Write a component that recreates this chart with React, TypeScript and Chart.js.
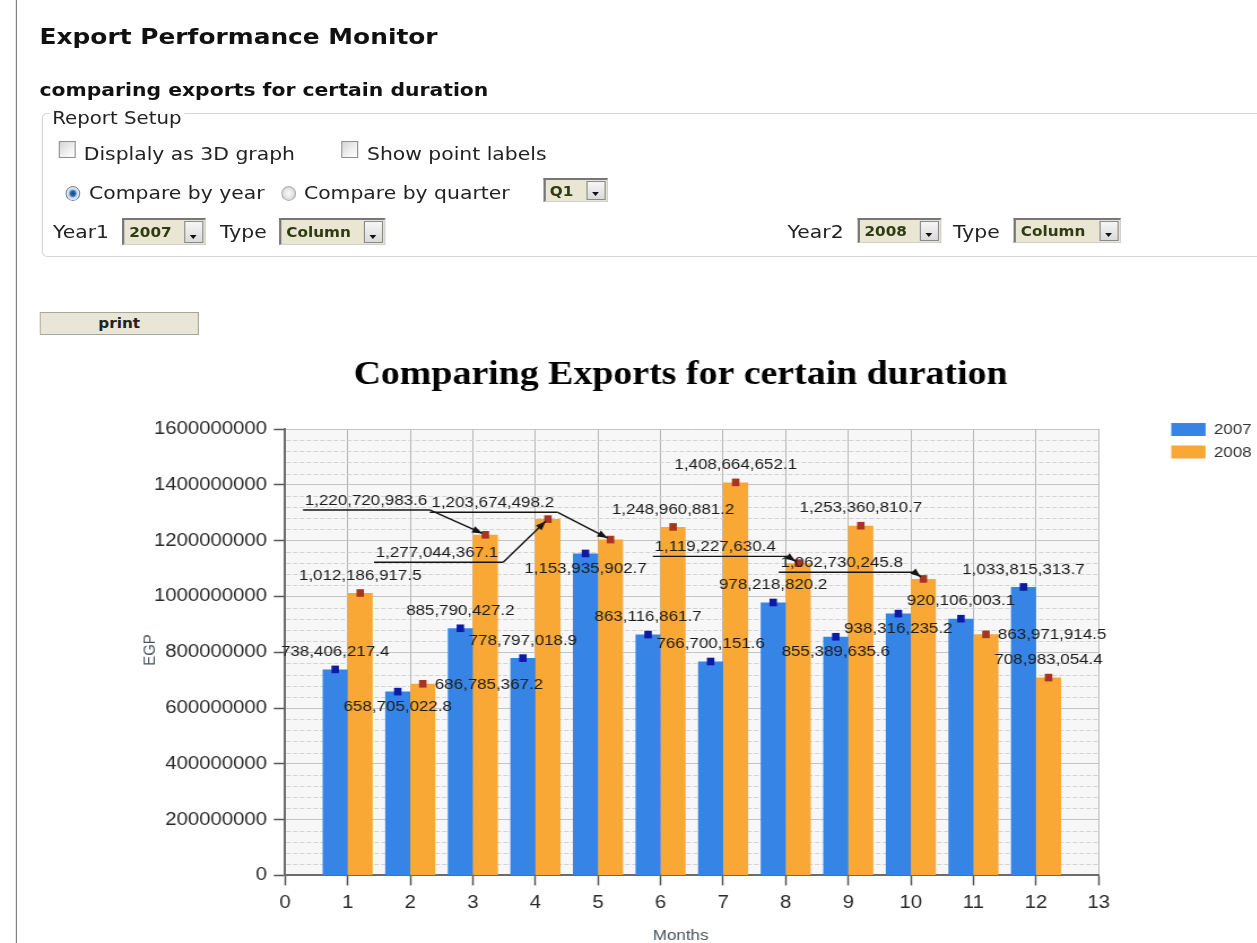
import React, { useEffect, useRef } from 'react';
import { Chart, registerables } from 'chart.js';

Chart.register(...registerables);

// ---------------- data ----------------
const MONTHS = [1, 2, 3, 4, 5, 6, 7, 8, 9, 10, 11, 12];
const EXPORTS_2007 = [
  738406217.4, 658705022.8, 885790427.2, 778797018.9, 1153935902.7, 863116861.7,
  766700151.6, 978218820.2, 855389635.6, 938316235.2, 920106003.1, 1033815313.7,
];
const EXPORTS_2008 = [
  1012186917.5, 686785367.2, 1220720983.6, 1277044367.1, 1203674498.2, 1248960881.2,
  1408664652.1, 1119227630.4, 1253360810.7, 1062730245.8, 863971914.5, 708983054.4,
];
const SERIES_LABELS = ['2007', '2008'];
const Y_TICKS = [0, 200000000, 400000000, 600000000, 800000000, 1000000000, 1200000000, 1400000000, 1600000000];
const X_TICKS = [0, 1, 2, 3, 4, 5, 6, 7, 8, 9, 10, 11, 12, 13];
const CHART_TITLE = 'Comparing Exports for certain duration';
const X_TITLE = 'Months';
const Y_TITLE = 'EGP';

// label placement (annotation layout, not data)
const LABEL_POS_2007 = ['top', 'bottom', 'top', 'top', 'bottom', 'top', 'top', 'top', 'bottom', 'bottom', 'top', 'top'];
const LABEL_POS_2008 = ['top', 'right', 'callout', 'callout', 'callout', 'top', 'top', 'callout', 'top', 'callout', 'right', 'top'];
const CALLOUT_2008: (number[] | null)[] = [
  null, null, [-105.6, -33.8, 2.7], [-98.2, 34.2, 4.4], [-104.2, -36.3, 3.3], null,
  null, [-73.5, -15.8, 10.6], null, [-72.3, -15.6, 10.3], null, null,
];

// ---------------- styles ----------------
const S = 1.13; // horizontal stretch of the reference picture
const UI_FONT = '"DejaVu Sans", Verdana, sans-serif';
const CH_FONT = '"Liberation Sans", Arial, sans-serif';
const BAR_COLORS = ['#3584e6', '#f9a835'];
const MARKER_COLORS = ['#0c1aa6', '#a83423'];

const fmt = (v: number) =>
  v.toLocaleString('en-US', { minimumFractionDigits: 1, maximumFractionDigits: 1 });

function drawArrow(ctx: CanvasRenderingContext2D, x1: number, y1: number, x2: number, y2: number) {
  const ang = Math.atan2(y2 - y1, x2 - x1);
  const tx = x2 - Math.cos(ang) * 3;
  const ty = y2 - Math.sin(ang) * 3;
  ctx.beginPath();
  ctx.moveTo(x1, y1);
  ctx.lineTo(tx, ty);
  ctx.stroke();
  const L = 9;
  const W = 3.5;
  ctx.beginPath();
  ctx.moveTo(tx, ty);
  ctx.lineTo(tx - L * Math.cos(ang) + W * Math.sin(ang), ty - L * Math.sin(ang) - W * Math.cos(ang));
  ctx.lineTo(tx - L * Math.cos(ang) - W * Math.sin(ang), ty - L * Math.sin(ang) + W * Math.cos(ang));
  ctx.closePath();
  ctx.fill();
}

const decorPlugin = {
  id: 'decor',
  beforeDraw(chart: any) {
    const { ctx, chartArea } = chart;
    ctx.save();
    ctx.fillStyle = '#f7f7f7';
    ctx.fillRect(chartArea.left, chartArea.top, chartArea.right - chartArea.left, chartArea.bottom - chartArea.top);
    ctx.restore();
  },
  beforeDatasetsDraw(chart: any) {
    const { ctx, chartArea } = chart;
    const ys = chart.scales.y;
    ctx.save();
    ctx.strokeStyle = '#d2d2d2';
    ctx.lineWidth = 1;
    ctx.setLineDash([4, 2]);
    const max = Y_TICKS[Y_TICKS.length - 1];
    const minorStep = (Y_TICKS[1] - Y_TICKS[0]) / 5;
    for (let v = minorStep; v < max; v += minorStep) {
      if (Math.abs(v / Y_TICKS[1] - Math.round(v / Y_TICKS[1])) < 1e-6) continue;
      const y = Math.round(ys.getPixelForValue(v)) + 0.5;
      ctx.beginPath();
      ctx.moveTo(chartArea.left + 1, y);
      ctx.lineTo(chartArea.right, y);
      ctx.stroke();
    }
    ctx.restore();
  },
  afterDatasetsDraw(chart: any) {
    const { ctx } = chart;
    ctx.save();
    // markers
    chart.data.datasets.forEach((ds: any, di: number) => {
      const meta = chart.getDatasetMeta(di);
      meta.data.forEach((bar: any) => {
        const { x, y } = bar.getProps(['x', 'y'], true);
        ctx.fillStyle = MARKER_COLORS[di];
        ctx.fillRect(x - 3.3, y - 3.8, 6.6, 7.6);
      });
    });
    // labels
    ctx.font = `15px ${CH_FONT}`;
    ctx.fillStyle = '#1c1c1c';
    ctx.strokeStyle = '#151515';
    ctx.lineWidth = 1.4;
    ctx.textBaseline = 'middle';
    const positions = [LABEL_POS_2007, LABEL_POS_2008];
    const callouts = [[], CALLOUT_2008] as (number[] | null)[][];
    chart.data.datasets.forEach((ds: any, di: number) => {
      const meta = chart.getDatasetMeta(di);
      meta.data.forEach((bar: any, i: number) => {
        const { x, y } = bar.getProps(['x', 'y'], true);
        const text = fmt(ds.data[i].y);
        const w = ctx.measureText(text).width;
        const pos = positions[di][i];
        if (pos === 'top') {
          ctx.textAlign = 'center';
          ctx.fillText(text, x, y - 17.5);
        } else if (pos === 'bottom') {
          ctx.textAlign = 'center';
          ctx.fillText(text, x, y + 15.5);
        } else if (pos === 'right') {
          ctx.textAlign = 'left';
          ctx.fillText(text, x + 10.6, y + 1);
        } else {
          const c = callouts[di][i] as number[];
          const cx = x + c[0];
          const cy = y + c[1];
          ctx.textAlign = 'center';
          ctx.fillText(text, cx, cy);
          const ul = cy + 9;
          const l = cx - w / 2 - 1.5;
          const r = cx + w / 2 + c[2];
          ctx.beginPath();
          ctx.moveTo(l, ul);
          ctx.lineTo(r, ul);
          ctx.stroke();
          ctx.fillStyle = '#151515';
          drawArrow(ctx, r, ul, x, y);
          ctx.fillStyle = '#1c1c1c';
        }
      });
    });
    ctx.restore();
  },
  afterDraw(chart: any) {
    const { ctx } = chart;
    ctx.save();
    // chart title
    ctx.fillStyle = '#000';
    ctx.font = `bold 33.5px "Liberation Serif", "Times New Roman", serif`;
    ctx.textAlign = 'center';
    ctx.textBaseline = 'middle';
    ctx.fillText(CHART_TITLE, 513.3, 35);
    // legend
    chart.data.datasets.forEach((ds: any, i: number) => {
      const top = 83 + i * 22.5;
      ctx.fillStyle = ds.backgroundColor;
      ctx.fillRect(947.5, top, 30.4, 13);
      ctx.fillStyle = '#333';
      ctx.font = `15px ${CH_FONT}`;
      ctx.textAlign = 'left';
      ctx.textBaseline = 'middle';
      ctx.fillText(ds.label, 985.2, top + 7);
    });
    // axis titles
    ctx.fillStyle = '#4a5360';
    ctx.font = `15px ${CH_FONT}`;
    ctx.textAlign = 'center';
    ctx.textBaseline = 'middle';
    ctx.fillText(X_TITLE, 513.3, 596);
    ctx.translate(44, 310);
    ctx.rotate(-Math.PI / 2);
    ctx.fillText(Y_TITLE, 0, 0);
    ctx.restore();
  },
};

function ExportChart() {
  const ref = useRef<HTMLCanvasElement | null>(null);
  useEffect(() => {
    if (!ref.current) return;
    const chart = new Chart(ref.current, {
      type: 'bar',
      data: {
        datasets: [EXPORTS_2007, EXPORTS_2008].map((vals, di) => ({
          label: SERIES_LABELS[di],
          data: MONTHS.map((m, i) => ({ x: m, y: vals[i] })),
          backgroundColor: BAR_COLORS[di],
          borderWidth: 0,
          categoryPercentage: 0.8,
          barPercentage: 1,
        })),
      },
      options: {
        responsive: true,
        maintainAspectRatio: false,
        animation: false,
        events: [],
        layout: { padding: { left: 0, right: 140.8, top: 89, bottom: 0 } },
        plugins: {
          legend: { display: false },
          tooltip: { enabled: false },
          title: { display: false },
        },
        scales: {
          x: {
            type: 'linear',
            min: X_TICKS[0],
            max: X_TICKS[X_TICKS.length - 1],
            offset: false,
            afterBuildTicks: (s: any) => {
              s.ticks = X_TICKS.map((v) => ({ value: v }));
            },
            afterFit: (s: any) => {
              s.height = 67.6;
            },
            ticks: {
              color: '#2a2a2a',
              font: { family: CH_FONT, size: 18 },
              padding: 7,
              callback: (v: any) => String(v),
            },
            grid: { offset: false, color: '#b7b7b7', lineWidth: 1, tickLength: 10, tickColor: '#555', tickWidth: 1.5 },
            border: { color: '#6b6b6b', width: 2 },
          },
          y: {
            type: 'linear',
            min: Y_TICKS[0],
            max: Y_TICKS[Y_TICKS.length - 1],
            afterBuildTicks: (s: any) => {
              s.ticks = Y_TICKS.map((v) => ({ value: v }));
            },
            afterFit: (s: any) => {
              s.width = 163.3;
            },
            ticks: {
              color: '#2a2a2a',
              font: { family: CH_FONT, size: 18 },
              padding: 6,
              callback: (v: any) => String(v),
            },
            grid: { color: '#c4c4c4', lineWidth: 1, tickLength: 10, tickColor: '#555', tickWidth: 1.5 },
            border: { color: '#6b6b6b', width: 2 },
          },
        },
      } as any,
      plugins: [decorPlugin],
    });
    return () => chart.destroy();
  }, []);
  return <canvas ref={ref} style={{ display: 'block', width: '100%', height: '100%' }} />;
}

// ---------------- page UI ----------------
function Txt(props: { x: number; base: number; size: number; bold?: boolean; children: any; bg?: string; color?: string }) {
  const { x, base, size, bold, children, bg, color } = props;
  return (
    <div
      style={{
        position: 'absolute',
        left: x,
        top: base - 0.846 * size,
        fontFamily: UI_FONT,
        fontSize: size,
        lineHeight: 1,
        fontWeight: bold ? 'bold' : 'normal',
        whiteSpace: 'nowrap',
        color: color || '#222',
        background: bg,
        padding: bg ? '0 2px' : undefined,
        marginLeft: bg ? -2 : undefined,
      }}
    >
      {children}
    </div>
  );
}

function CheckBox({ x, y }: { x: number; y: number }) {
  return (
    <div
      style={{
        position: 'absolute',
        left: x,
        top: y,
        width: 15,
        height: 17,
        boxSizing: 'border-box',
        border: '1px solid #8e8e8e',
        background: 'linear-gradient(135deg, #d4d4d4 0%, #efefef 55%, #ffffff 100%)',
      }}
    />
  );
}

function Radio({ x, y, checked }: { x: number; y: number; checked?: boolean }) {
  return (
    <div
      style={{
        position: 'absolute',
        left: x,
        top: y,
        width: 13.3,
        height: 15,
        boxSizing: 'border-box',
        borderRadius: '50%',
        border: checked ? '1px solid #6f8aa6' : '1px solid #b0b0b0',
        background: checked
          ? 'radial-gradient(closest-side, #123f80 0%, #2f74c0 45%, #b9cbdc 62%, #f2f2f2 100%)'
          : 'radial-gradient(closest-side, #f8f8f8 0%, #e6e6e6 70%, #d2d2d2 100%)',
      }}
    />
  );
}

function Select({ x, y, w, h, text }: { x: number; y: number; w: number; h: number; text: string }) {
  return (
    <div
      style={{
        position: 'absolute',
        left: x,
        top: y,
        width: w,
        height: h,
        boxSizing: 'border-box',
        borderStyle: 'solid',
        borderWidth: '2px 1px 1px 2px',
        borderColor: '#777 #cfcfcf #cfcfcf #777',
        background: '#e9e7d3',
      }}
    >
      <div
        style={{
          position: 'absolute',
          left: 4,
          top: 0,
          bottom: 0,
          display: 'flex',
          alignItems: 'center',
          fontFamily: UI_FONT,
          fontWeight: 'bold',
          fontSize: 13.5,
          color: '#2f3b10',
        }}
      >
        {text}
      </div>
      <div
        style={{
          position: 'absolute',
          right: 1,
          top: 1,
          bottom: 1,
          width: 17,
          boxSizing: 'border-box',
          border: '1px solid #8a8a8a',
          background: 'linear-gradient(#f6f6f6, #dadada)',
        }}
      >
        <div
          style={{
            position: 'absolute',
            left: '50%',
            bottom: 3,
            marginLeft: -3.5,
            width: 0,
            height: 0,
            borderLeft: '3.5px solid transparent',
            borderRight: '3.5px solid transparent',
            borderTop: '4px solid #111',
          }}
        />
      </div>
    </div>
  );
}

export default function App() {
  return (
    <div style={{ position: 'absolute', left: 0, top: 0, width: 1257, height: 943, overflow: 'hidden', background: '#fff' }}>
      <div
        style={{
          position: 'absolute',
          left: 0,
          top: 0,
          width: 1257 / S,
          height: 943,
          transform: `scaleX(${S})`,
          transformOrigin: '0 0',
        }}
      >
        <div style={{ position: 'absolute', left: 13.7, top: 0, width: 1.3, height: 943, background: '#7a7a7a' }} />
        <Txt x={35} base={45} size={22} bold color="#111">Export Performance Monitor</Txt>
        <Txt x={35} base={96} size={18} bold color="#111">comparing exports for certain duration</Txt>

        <div
          style={{
            position: 'absolute',
            left: 37.2,
            top: 113,
            width: 1090,
            height: 143.7,
            boxSizing: 'border-box',
            border: '1.5px solid #d6d6d6',
            borderRadius: 5,
          }}
        />
        <Txt x={46.2} base={125} size={17.5} bg="#fff">Report Setup</Txt>

        <CheckBox x={52.2} y={141} />
        <Txt x={74.1} base={160} size={18}>Displaly as 3D graph</Txt>
        <CheckBox x={301.8} y={141} />
        <Txt x={324.8} base={160} size={18}>Show point labels</Txt>

        <Radio x={57.5} y={185.5} checked />
        <Txt x={78.8} base={199.5} size={18}>Compare by year</Txt>
        <Radio x={249.2} y={185.5} />
        <Txt x={269} base={199.5} size={18}>Compare by quarter</Txt>
        <Select x={480.5} y={178} w={57.5} h={24} text="Q1" />

        <Txt x={46.9} base={238.5} size={18}>Year1</Txt>
        <Select x={108.3} y={218} w={74} h={27} text="2007" />
        <Txt x={194.7} base={238.5} size={18}>Type</Txt>
        <Select x={247.4} y={218} w={93.9} h={27} text="Column" />

        <Txt x={697} base={238.5} size={18}>Year2</Txt>
        <Select x={759} y={218} w={73.7} h={25} text="2008" />
        <Txt x={843.4} base={238.5} size={18}>Type</Txt>
        <Select x={897.3} y={218} w={94.7} h={25} text="Column" />

        <div
          style={{
            position: 'absolute',
            left: 35,
            top: 311.7,
            width: 141,
            height: 23.3,
            boxSizing: 'border-box',
            border: '1px solid #aaa69a',
            background: '#e9e5d7',
            display: 'flex',
            alignItems: 'center',
            justifyContent: 'center',
            fontFamily: UI_FONT,
            fontWeight: 'bold',
            fontSize: 13.5,
            color: '#222',
          }}
        >
          print
        </div>

        <div style={{ position: 'absolute', left: 88.5, top: 340, width: 1024, height: 603 }}>
          <ExportChart />
        </div>
      </div>
    </div>
  );
}
